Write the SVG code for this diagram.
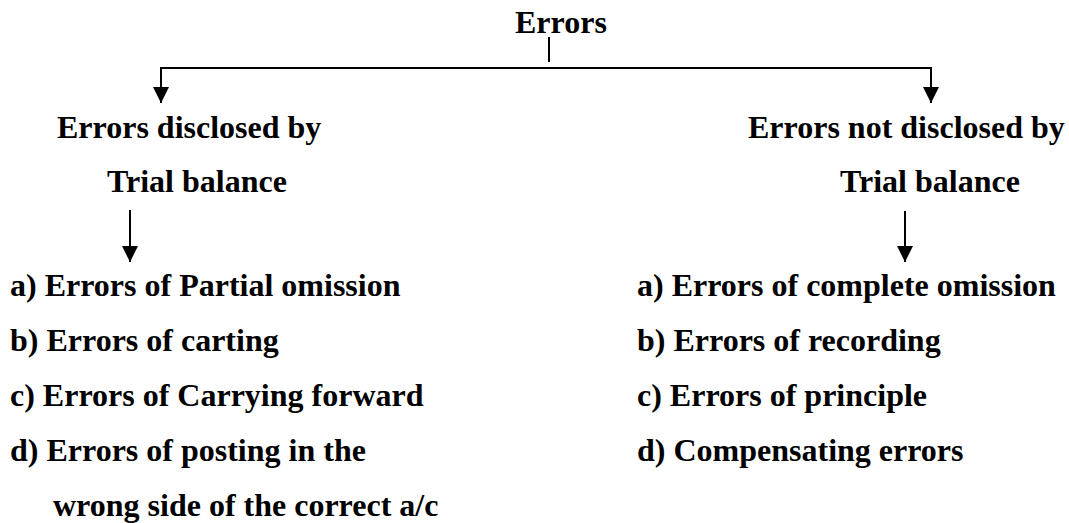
<svg xmlns="http://www.w3.org/2000/svg" width="1069" height="523" viewBox="0 0 1069 523">
<defs>
<style>
text{font-family:"Liberation Serif","Times New Roman",serif;font-weight:bold;font-size:32px;fill:#000}
.ln{stroke:#000;stroke-width:2;fill:none}
</style>
<marker id="ah" viewBox="0 0 16 16" refX="16" refY="8" markerWidth="16" markerHeight="16" markerUnits="userSpaceOnUse" orient="auto">
<path d="M0,0 L16,8 L0,16 Z" fill="#000"/>
</marker>
</defs>
<rect width="1069" height="523" fill="#fff"/>
<g id="root"><text x="515" y="33">Errors</text></g>
<g id="left"><text x="57" y="138">Errors disclosed by</text><text x="107" y="192">Trial balance</text></g>
<g id="right"><text x="748" y="138">Errors not disclosed by</text><text x="840" y="192">Trial balance</text></g>
<g id="leftlist">
<text x="10" y="296">a) Errors of Partial omission</text>
<text x="10" y="351">b) Errors of carting</text>
<text x="10" y="406">c) Errors of Carrying forward</text>
<text x="10" y="461">d) Errors of posting in the</text>
<text x="53" y="516">wrong side of the correct a/c</text>
</g>
<g id="rightlist">
<text x="637" y="296">a) Errors of complete omission</text>
<text x="637" y="351">b) Errors of recording</text>
<text x="637" y="406">c) Errors of principle</text>
<text x="637" y="461">d) Compensating errors</text>
</g>
<g id="connectors">
<line class="ln" x1="549" y1="37" x2="549" y2="62" stroke-width="1.5"/>
<path class="ln" d="M930,68 H160"/>
<path class="ln" d="M161,67 V103" marker-end="url(#ah)"/>
<path class="ln" d="M931,67 V103" marker-end="url(#ah)"/>
<path class="ln" d="M130,210 V262" marker-end="url(#ah)"/>
<path class="ln" d="M905,211 V262" marker-end="url(#ah)"/>
</g>
</svg>
